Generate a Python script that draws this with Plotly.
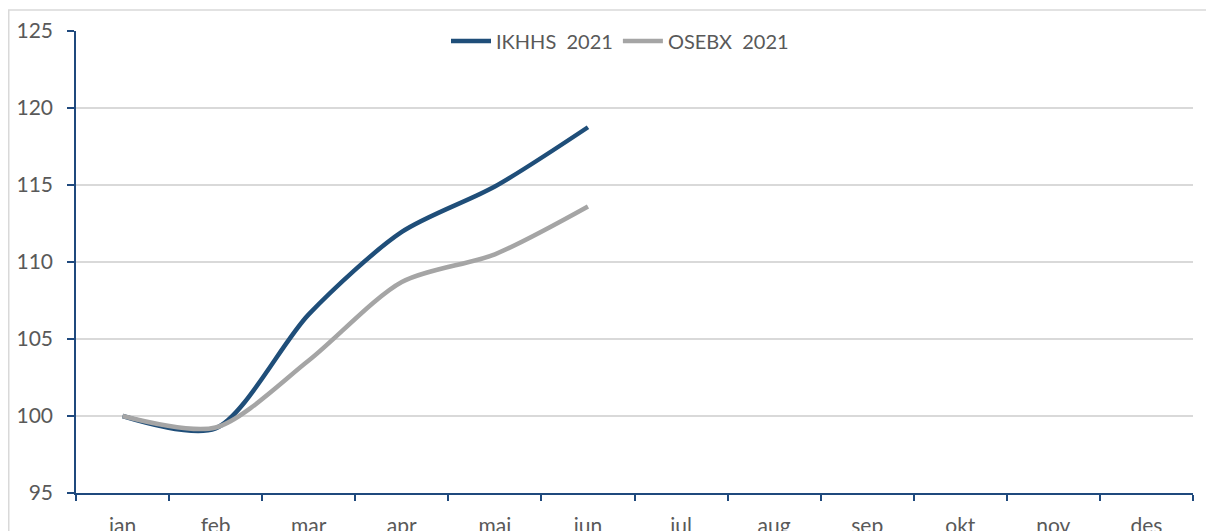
import plotly.graph_objects as go

months = ["jan", "feb", "mar", "apr", "mai", "jun", "jul", "aug", "sep", "okt", "nov", "des"]
ikhhs_2021 = [100.0, 99.2, 106.6, 111.95, 114.9, 118.75]
osebx_2021 = [100.0, 99.25, 103.6, 108.7, 110.5, 113.6]
y_ticks = [95, 100, 105, 110, 115, 120, 125]

BLUE = "#1F4E79"
GREY = "#A5A5A5"
AXIS = "#1F497D"
TEXT = "#595959"
FONT = "Lato, 'Open Sans', sans-serif"

fig = go.Figure()
fig.add_trace(go.Scatter(
    x=months[:len(ikhhs_2021)], y=ikhhs_2021, mode="lines",
    name="IKHHS\u00a0 2021",
    line=dict(color=BLUE, width=4.5, shape="spline", smoothing=0.8),
))
fig.add_trace(go.Scatter(
    x=months[:len(osebx_2021)], y=osebx_2021, mode="lines",
    name="OSEBX\u00a0 2021",
    line=dict(color=GREY, width=4.5, shape="spline", smoothing=0.8),
))

# page body has an 8px margin, so the figure starts at (8, 8)
W, H = 1206, 523
L, R, T, B = 68, 21, 23, 38
pw, ph = W - L - R, H - T - B

fig.update_layout(
    width=W, height=H,
    margin=dict(l=L, r=R, t=T, b=B, pad=0, autoexpand=False),
    paper_bgcolor="white", plot_bgcolor="white",
    font=dict(family=FONT, size=21, color=TEXT),
    showlegend=True,
    legend=dict(
        orientation="h", x=(620 - 76) / pw, xanchor="center",
        y=(H - T - 48) / ph, yanchor="middle",
        font=dict(family=FONT, size=20, color=TEXT), bgcolor="rgba(0,0,0,0)",
        traceorder="normal", itemwidth=40,
    ),
    xaxis=dict(
        type="category", categoryorder="array", categoryarray=months,
        tickmode="array", tickvals=months, ticktext=months,
        range=[-0.5, 11.5], showgrid=False, zeroline=False,
        showline=True, linecolor=AXIS, linewidth=1.5,
        ticks="outside", tickson="boundaries", ticklen=6, tickwidth=1.5, tickcolor=AXIS,
        ticklabelstandoff=13, automargin=False,
        tickfont=dict(family=FONT, size=21, color=TEXT),
        fixedrange=True,
    ),
    yaxis=dict(
        range=[95, 125], tickvals=y_ticks, showgrid=True, gridcolor="#D9D9D9", gridwidth=1.5,
        zeroline=False, showline=True, linecolor=AXIS, linewidth=1.5,
        ticks="outside", ticklen=7, tickwidth=1.5, tickcolor=AXIS,
        ticklabelstandoff=10, automargin=False,
        tickfont=dict(family=FONT, size=21, color=TEXT),
        fixedrange=True,
    ),
    shapes=[dict(
        type="rect", xref="paper", yref="paper",
        x0=(0.75 - L) / pw, x1=1.2, y0=-0.5, y1=(H - B - 2) / ph,
        line=dict(color="#D9D9D9", width=1.5), fillcolor="rgba(0,0,0,0)", layer="below",
    )],
)

fig.write_html("out.html")
